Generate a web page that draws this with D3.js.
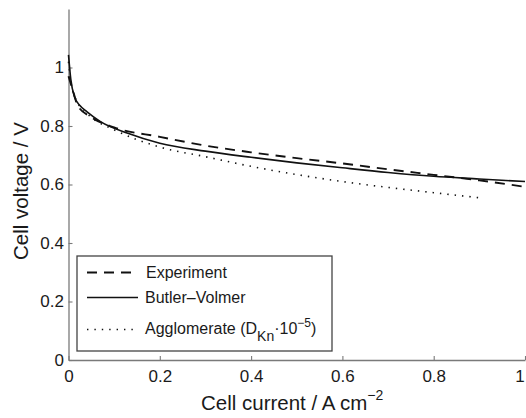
<!DOCTYPE html>
<html>
<head>
<meta charset="utf-8">
<script src="https://cdn.jsdelivr.net/npm/d3@7"></script>
<style>
  html, body { margin: 0; padding: 0; background: #fff; }
  svg { display: block; font-family: "Liberation Sans", Arial, Helvetica, sans-serif; }
</style>
</head>
<body>
<svg id="chart" width="526" height="418"></svg>
<script>
// Polarisation curves: cell voltage (V) against cell current density (A cm^-2)
const experimentI = [0, 0.01, 0.02, 0.05, 0.1, 0.2, 0.3, 0.4, 0.5, 0.6, 0.7, 0.8, 0.9, 1.0];
const experimentV = [0.97, 0.92, 0.87, 0.83, 0.795, 0.763, 0.733, 0.71, 0.69, 0.672, 0.652, 0.633, 0.614, 0.592];

const butlerI = [0, 0.005, 0.013, 0.025, 0.04, 0.07, 0.13, 0.2, 0.3, 0.4, 0.5, 0.6, 0.7, 0.8, 0.9, 1.0];
const butlerV = [1.043, 0.96, 0.90, 0.87, 0.849, 0.815, 0.775, 0.741, 0.714, 0.693, 0.674, 0.657, 0.641, 0.628, 0.619, 0.610];

const agglomI = [0, 0.005, 0.02, 0.05, 0.1, 0.2, 0.3, 0.4, 0.5, 0.6, 0.7, 0.8, 0.91];
const agglomV = [1.02, 0.95, 0.88, 0.83, 0.787, 0.728, 0.695, 0.662, 0.634, 0.61, 0.59, 0.572, 0.553];

const xTicks = [0, 0.2, 0.4, 0.6, 0.8, 1];
const xTickLabels = ["0", "0.2", "0.4", "0.6", "0.8", "1"];
const yTicks = [0, 0.2, 0.4, 0.6, 0.8, 1];
const yTickLabels = ["0", "0.2", "0.4", "0.6", "0.8", "1"];

const svg = d3.select("#chart");
const x = d3.scaleLinear().domain([0, 1]).range([68.5, 525]);
const y = d3.scaleLinear().domain([0, 1.2]).range([360, 9]);

const axisColor = "#7a7a7a";
const textColor = "#1a1a1a";

// Axes with inward ticks
const gx = svg.append("g").attr("transform", `translate(0,${y(0)})`)
  .call(d3.axisBottom(x).tickValues(xTicks).tickFormat((d, i) => xTickLabels[i])
    .tickSizeInner(-4).tickSizeOuter(0).tickPadding(10));
const gy = svg.append("g").attr("transform", `translate(${x(0)},0)`)
  .call(d3.axisLeft(y).tickValues(yTicks).tickFormat((d, i) => yTickLabels[i])
    .tickSizeInner(-4).tickSizeOuter(0).tickPadding(4.5));

[gx, gy].forEach(g => {
  g.select(".domain").attr("stroke", axisColor).attr("stroke-width", 1.3);
  g.selectAll(".tick line").attr("stroke", axisColor).attr("stroke-width", 1.1);
  g.selectAll(".tick text").attr("fill", textColor).attr("font-size", 17)
    .attr("font-family", "Liberation Sans, Arial, Helvetica, sans-serif");
});
// keep the last x label inside the page edge
gx.selectAll(".tick text").filter(d => d === 1).attr("dx", -5.5);

// Curves
const line = d3.line().x(d => x(d[0])).y(d => y(d[1])).curve(d3.curveMonotoneX);
const zip = (a, b) => a.map((v, i) => [v, b[i]]);

const series = [
  { name: "Experiment", pts: zip(experimentI, experimentV), dash: "10,7", width: 1.9 },
  { name: "Butler–Volmer", pts: zip(butlerI, butlerV), dash: null, width: 1.6 },
  { name: "Agglomerate", pts: zip(agglomI, agglomV), dash: "1.4,6", width: 1.6 }
];

svg.append("g").selectAll("path").data(series).join("path")
  .attr("d", d => line(d.pts))
  .attr("fill", "none")
  .attr("stroke", "#111")
  .attr("stroke-width", d => d.width)
  .attr("stroke-dasharray", d => d.dash);

// Legend
const lg = svg.append("g");
lg.append("rect").attr("x", 77).attr("y", 256).attr("width", 255).attr("height", 95)
  .attr("fill", "#fff").attr("stroke", "#444").attr("stroke-width", 1.3);

const legendRows = [
  { s: series[0], ly: 272.5, ty: 277.5 },
  { s: series[1], ly: 297.5, ty: 303 },
  { s: series[2], ly: 329.5, ty: 334 }
];
legendRows.forEach(r => {
  lg.append("line").attr("x1", 87).attr("x2", 138).attr("y1", r.ly).attr("y2", r.ly)
    .attr("stroke", "#111").attr("stroke-width", r.s.width)
    .attr("stroke-dasharray", r.s.dash);
});

lg.append("text").attr("x", 146).attr("y", legendRows[0].ty).attr("font-size", 16)
  .attr("fill", textColor).text("Experiment");
lg.append("text").attr("x", 145).attr("y", legendRows[1].ty).attr("font-size", 16)
  .attr("fill", textColor).text("Butler–Volmer");

const ag = lg.append("text").attr("x", 145).attr("y", legendRows[2].ty).attr("font-size", 16)
  .attr("fill", textColor);
ag.append("tspan").text("Agglomerate (D");
ag.append("tspan").attr("font-size", 14).attr("dy", 7).text("Kn");
ag.append("tspan").attr("dy", -7).text("·10");
ag.append("tspan").attr("font-size", 12).attr("dy", -7).text("−5");
ag.append("tspan").attr("dy", 7).text(")");

// Axis titles
const xt = svg.append("text").attr("x", 201).attr("y", 410).attr("font-size", 20.5)
  .attr("fill", textColor);
xt.append("tspan").text("Cell current / A cm");
xt.append("tspan").attr("font-size", 14).attr("dy", -10).text("−2");

svg.append("text").attr("transform", "translate(28,191) rotate(-90)")
  .attr("text-anchor", "middle").attr("font-size", 20.5).attr("fill", textColor)
  .text("Cell voltage / V");
</script>
</body>
</html>
